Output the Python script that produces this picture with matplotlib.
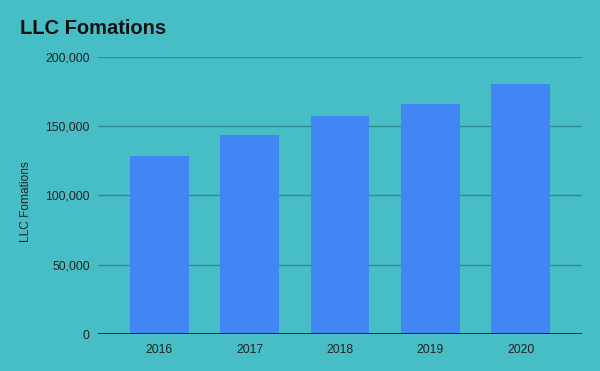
import matplotlib
matplotlib.use('Agg')
import matplotlib.pyplot as plt
from matplotlib.ticker import FuncFormatter

years = ['2016', '2017', '2018', '2019', '2020']
formations = [128500, 143500, 157300, 165900, 180100]

bg = '#47bdc6'
plt.rcParams['font.family'] = ['Liberation Sans', 'DejaVu Sans']

fig = plt.figure(figsize=(6, 3.71), dpi=100, facecolor=bg)
ax = fig.add_axes([0.1633, 0.0989, 0.8067, 0.7483], facecolor=bg)

ax.bar(range(len(years)), formations, width=0.65, color='#4285f4', zorder=3)

ax.set_xlim(-0.68, len(years) - 1 + 0.68)
ax.set_ylim(0, 200000)
ax.set_yticks([0, 50000, 100000, 150000, 200000])
ax.yaxis.set_major_formatter(FuncFormatter(lambda v, p: f'{int(v):,}'))
ax.set_xticks(range(len(years)))
ax.set_xticklabels(years)

ax.grid(axis='y', color='#2f8d94', linewidth=1, zorder=0)
ax.axhline(0, color='#1a1a1a', linewidth=1.2, zorder=4)
for s in ax.spines.values():
    s.set_visible(False)
ax.tick_params(length=0, labelsize=8.8, colors='#222222')
ax.tick_params(axis='y', pad=6)
ax.tick_params(axis='x', pad=7)

ax.set_ylabel('LLC Fomations', fontsize=8.6, color='#222222')
ax.yaxis.set_label_coords(-0.136, 0.477)
fig.text(20 / 600, 1 - 28 / 371, 'LLC Fomations', fontsize=14.5, fontweight='bold',
         va='center', ha='left', color='#111111')

fig.savefig('out.png', dpi=100, facecolor=bg)
